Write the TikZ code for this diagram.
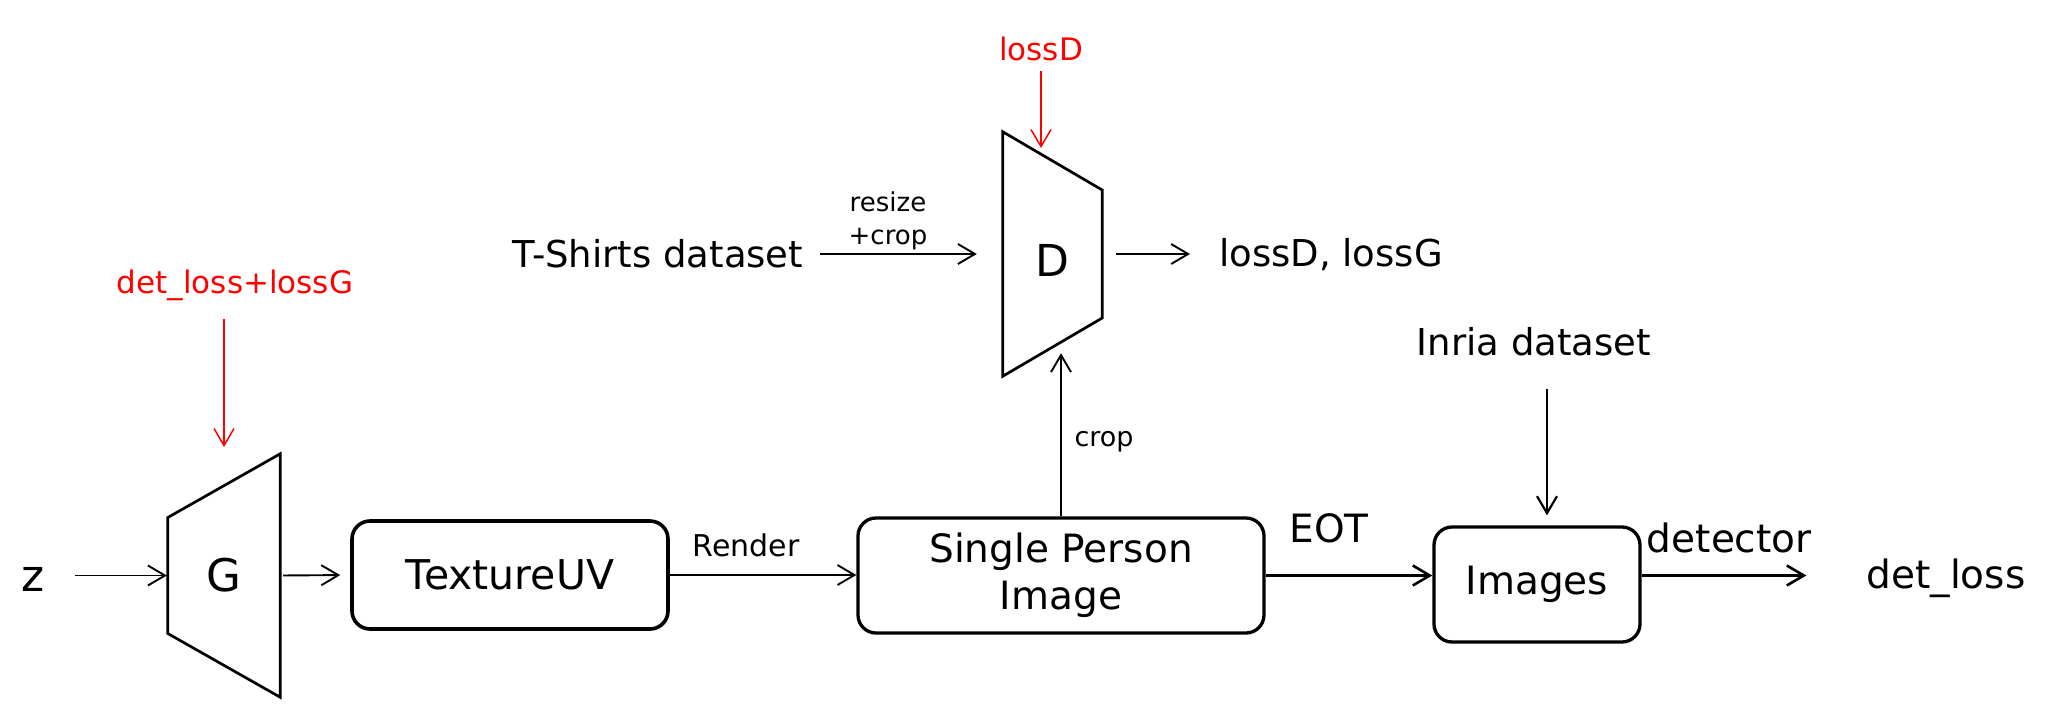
\documentclass[tikz,border=0pt]{standalone}
\usepackage{fontspec}
\setmainfont{DejaVu Sans}
\usetikzlibrary{arrows.meta,calc}
\begin{document}
\begin{tikzpicture}[x=1pt,y=-1pt,
  arr/.style={-{Straight Barb[length=17pt,width=20pt]}, line width=1.9pt},
  thickarr/.style={arr, line width=2.6pt},
  redarr/.style={arr, red, line width=1.5pt},
  box/.style={draw, line width=3.3pt, rounded corners=18pt, align=center, inner sep=0pt},
  trap/.style={line width=2.7pt, line join=miter},
  hold/.style={inner sep=0pt},
  lbl/.style={anchor=base, inner sep=0pt},
  big/.style={font=\fontsize{37}{44}\selectfont},
  mid/.style={font=\fontsize{39}{47}\selectfont},
  small/.style={font=\fontsize{27}{33}\selectfont},
  redtxt/.style={red, font=\fontsize{31}{37}\selectfont}
]
\useasboundingbox (0,0) rectangle (2070,718);

% generator
\node[hold, minimum width=112pt, minimum height=243pt, font=\fontsize{45}{54}\selectfont] (G) at (224,575.5) {G};
\draw[trap] (G.north east) -- (G.south east) -- ($(G.west)+(0,58)$) -- ($(G.west)+(0,-58)$) -- cycle;

% discriminator
\node[hold, minimum width=99pt, minimum height=244pt, font=\fontsize{44}{53}\selectfont] (D) at (1052.5,254) {\raisebox{-6pt}[\height][0pt]{D}};
\draw[trap] (D.north west) -- (D.south west) -- ($(D.east)+(0,64)$) -- ($(D.east)+(0,-64)$) -- cycle;

% boxes
\node[box, line width=3.6pt, minimum width=316pt, minimum height=108pt, font=\fontsize{41}{49}\selectfont] (tex) at (510,575) {TextureUV};
\node[box, minimum width=406pt, minimum height=115pt, mid] (spi) at (1061,575.5) {Single Person\\Image};
\node[box, minimum width=206pt, minimum height=115pt, mid] (img) at (1537,584.5) {Images};

% texts
\node[lbl, font=\fontsize{44}{53}\selectfont] (z) at (33,591) {z};
\node[lbl, big] (tsh) at (658,267) {T-Shirts dataset};
\node[lbl, big] (ldg) at (1331,266) {lossD, lossG};
\node[lbl, big] (inria) at (1534,355) {Inria dataset};
\node[lbl, mid] (detl) at (1946,588) {det\_loss};
\node[lbl, redtxt] (dl) at (235,293) {det\_loss+lossG};
\node[lbl, redtxt] (lossd) at (1041,60) {lossD};

\coordinate (gtop) at (224,447);
\coordinate (dtop) at (1041,148);

% connectors
\draw[arr, shorten <=30pt, shorten >=1pt] (z.east |- G.west) -- (G.west);
\draw[arr, shorten <=3pt, shorten >=10pt] (G.east) -- (tex.west);
\draw[arr] (tex.east) -- node[lbl, pos=0.41, font=\fontsize{30}{36}\selectfont, yshift=19pt] (render) {Render} (tex.east -| spi.west);
\draw[thickarr] (spi.east) -- node[lbl, pos=0.38, mid, yshift=33pt] (eot) {EOT} (spi.east -| img.west);
\draw[thickarr, shorten >=60pt] (img.east |- spi.east) -- node[lbl, pos=0.39, mid, yshift=23pt] (det) {detector} (detl.west |- spi.east);
\draw[arr, line width=2.2pt, shorten <=33pt, shorten >=10pt] ([xshift=13pt]inria.south) -- ([xshift=10pt]img.north);
\draw[arr, shorten >=-23pt] (spi.north) -- node[lbl, pos=0.5, small, xshift=43pt] (crop) {crop} (spi.north |- D.south);
\draw[arr, shorten <=17pt, shorten >=26pt] (tsh.east |- D.west) -- (D.west);
\node[small, align=center, inner sep=0pt, font=\fontsize{26}{33}\selectfont] (rc) at (888,221) {resize\\+crop};
\draw[arr, shorten <=14pt, shorten >=29pt] (D.east) -- (D.east -| ldg.west);
\draw[redarr, shorten <=18pt] (dl.south -| gtop) -- (gtop);
\draw[redarr, shorten <=10pt] (lossd.south) -- (dtop);
\end{tikzpicture}
\end{document}
